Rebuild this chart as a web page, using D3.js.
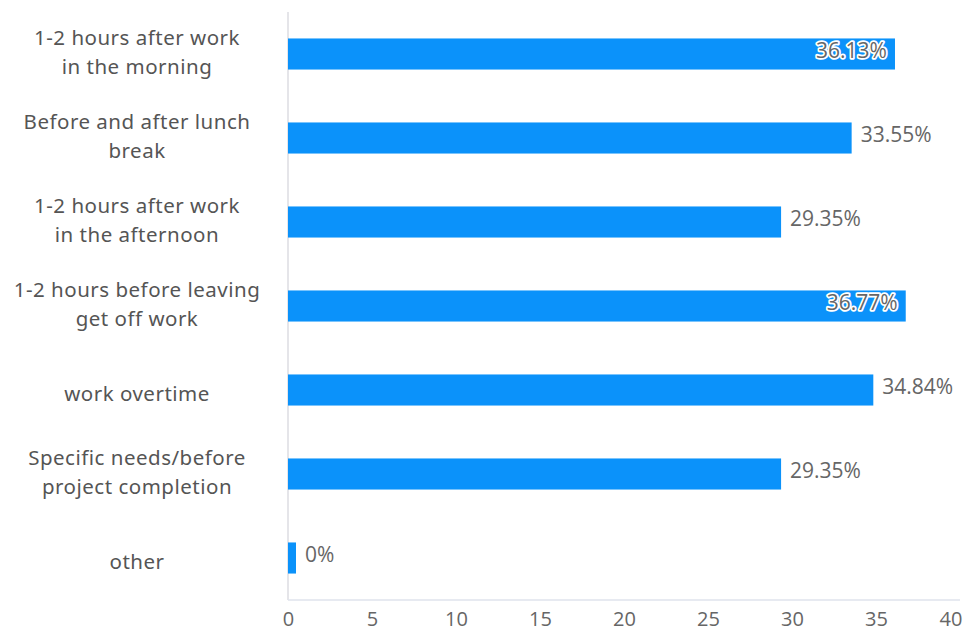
<!DOCTYPE html>
<html>
<head>
<meta charset="utf-8">
<script src="https://cdn.jsdelivr.net/npm/d3@7"></script>
<style>
  html, body { margin: 0; padding: 0; background: #fff; }
  svg { display: block; }
</style>
</head>
<body>
<svg id="chart" width="963" height="635"></svg>
<script>
// Survey: time slots when work gets done
const categories = [
  ["1-2 hours after work", "in the morning"],
  ["Before and after lunch", "break"],
  ["1-2 hours after work", "in the afternoon"],
  ["1-2 hours before leaving", "get off work"],
  ["work overtime"],
  ["Specific needs/before", "project completion"],
  ["other"]
];
const values = [36.13, 33.55, 29.35, 36.77, 34.84, 29.35, 0];
const tickValues = [0, 5, 10, 15, 20, 25, 30, 35, 40];

const W = 963, H = 635;
const margin = { left: 288, right: 3, top: 12, bottom: 35 };
const svg = d3.select("#chart");

const x = d3.scaleLinear().domain([0, 40]).range([margin.left, margin.left + 40 * 16.8]);
const y = d3.scaleBand()
  .domain(d3.range(categories.length))
  .range([margin.top, H - margin.bottom])
  .paddingInner(0.63).paddingOuter(0.315);

// axis lines
svg.append("line")
  .attr("x1", x(0)).attr("x2", x(0))
  .attr("y1", margin.top).attr("y2", H - margin.bottom)
  .attr("stroke", "#dcdde2").attr("stroke-width", 1.5);
svg.append("line")
  .attr("x1", x(0)).attr("x2", x(40))
  .attr("y1", H - margin.bottom).attr("y2", H - margin.bottom)
  .attr("stroke", "#dfe3ec").attr("stroke-width", 1.5);

// x tick labels
const xAxis = d3.axisBottom(x).tickValues(tickValues).tickSize(0).tickPadding(12);
const gx = svg.append("g")
  .attr("transform", `translate(0,${H - margin.bottom})`)
  .call(xAxis);
gx.select(".domain").remove();
gx.selectAll("text")
  .attr("font-family", "'Open Sans', 'Noto Sans', sans-serif")
  .attr("font-size", 20)
  .attr("fill", "#666")
  .attr("text-anchor", "middle");
// keep the last tick label inside the canvas
gx.selectAll(".tick").filter(d => d === 40)
  .attr("transform", `translate(${W - 12},0)`);

// bars (a minimum width keeps zero values visible)
const minBar = 8;
svg.append("g").selectAll("rect")
  .data(values)
  .join("rect")
  .attr("x", x(0))
  .attr("y", (d, i) => y(i))
  .attr("width", d => Math.max(x(d) - x(0), minBar))
  .attr("height", y.bandwidth())
  .attr("fill", "#0b92fa");

// value labels: inside the bar end when long, otherwise just after it
const inside = d => d > 36;
svg.append("g").selectAll("text")
  .data(values)
  .join("text")
  .attr("x", d => inside(d) ? x(d) - 8 : Math.max(x(d), x(0) + minBar) + 9)
  .attr("y", (d, i) => y(i) + y.bandwidth() / 2 - 3)
  .attr("dy", "0.35em")
  .attr("text-anchor", d => inside(d) ? "end" : "start")
  .attr("font-family", "'Open Sans', 'Noto Sans', sans-serif")
  .attr("font-size", 21)
  .attr("fill", "#666")
  .attr("stroke", d => inside(d) ? "#fff" : "none")
  .attr("stroke-width", 3.5)
  .attr("paint-order", "stroke")
  .attr("stroke-linejoin", "round")
  .text(d => `${d}%`);

// category labels, wrapped over lines and centered in the left margin
const lineH = 29;
const cat = svg.append("g").selectAll("text")
  .data(categories)
  .join("text")
  .attr("text-anchor", "middle")
  .attr("font-family", "'Noto Sans', 'Open Sans', sans-serif")
  .attr("font-size", 20.5)
  .attr("letter-spacing", 0.5)
  .attr("fill", "#555");
cat.each(function(lines, i) {
  const cy = y(i) + y.bandwidth() / 2;
  const t = d3.select(this);
  // single-line labels sit a little below the bar centre
  const y0 = lines.length === 1 ? cy + 4 : cy - (lines.length - 1) * lineH / 2 - 2;
  lines.forEach((ln, k) => {
    t.append("tspan")
      .attr("x", 137)
      .attr("y", y0 + k * lineH)
      .attr("dy", "0.35em")
      .text(ln);
  });
});
</script>
</body>
</html>
